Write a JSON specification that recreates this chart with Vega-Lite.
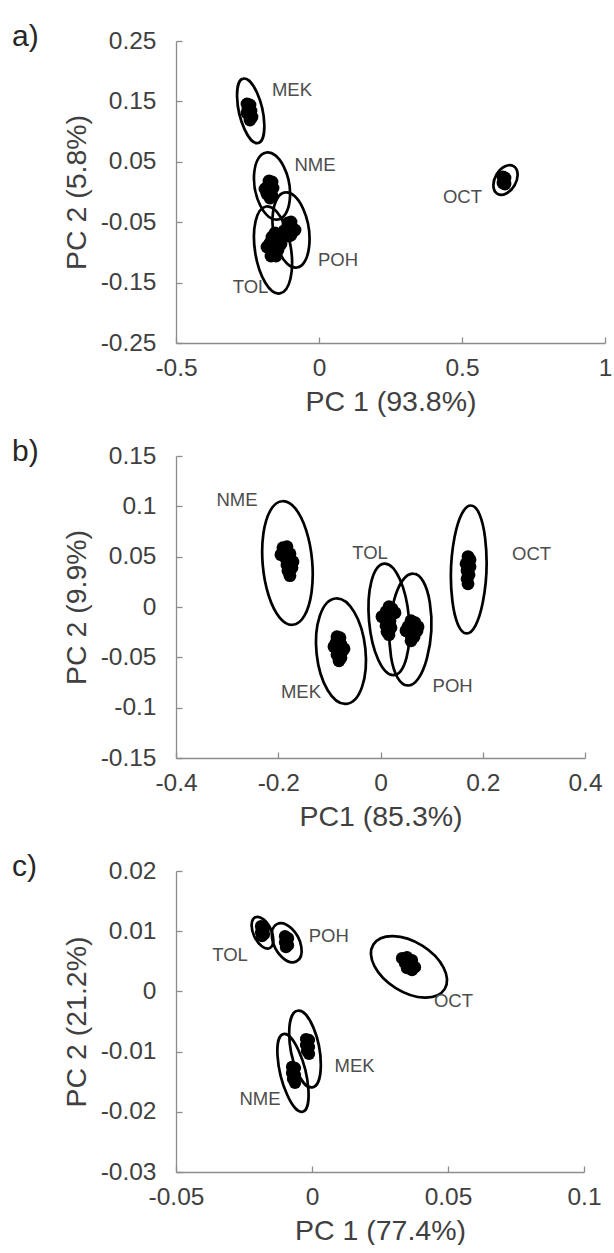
{
  "$schema": "https://vega.github.io/schema/vega-lite/v6.json",
  "autosize": {"type": "pad"},
  "padding": {"left": 12, "top": 22, "right": 0, "bottom": 0},
  "background": "white",
  "datasets": {
    "a_ellipse": [
      {"solvent": "MEK", "pc1": -0.2388, "pc2": 0.1344},
      {"solvent": "NME", "pc1": -0.1643, "pc2": 0.0099},
      {"solvent": "POH", "pc1": -0.0979, "pc2": -0.0629},
      {"solvent": "TOL", "pc1": -0.1608, "pc2": -0.0960},
      {"solvent": "OCT", "pc1": 0.6521, "pc2": 0.0199}
    ],
    "a_scores": [
      {"solvent": "MEK", "pc1": -0.2517, "pc2": 0.1457},
      {"solvent": "MEK", "pc1": -0.2413, "pc2": 0.1440},
      {"solvent": "MEK", "pc1": -0.2483, "pc2": 0.1374},
      {"solvent": "MEK", "pc1": -0.2378, "pc2": 0.1341},
      {"solvent": "MEK", "pc1": -0.2448, "pc2": 0.1291},
      {"solvent": "MEK", "pc1": -0.2343, "pc2": 0.1242},
      {"solvent": "MEK", "pc1": -0.2413, "pc2": 0.1192},
      {"solvent": "MEK", "pc1": -0.2517, "pc2": 0.1308},
      {"solvent": "NME", "pc1": -0.1748, "pc2": 0.0182},
      {"solvent": "NME", "pc1": -0.1643, "pc2": 0.0166},
      {"solvent": "NME", "pc1": -0.1783, "pc2": 0.0099},
      {"solvent": "NME", "pc1": -0.1608, "pc2": 0.0066},
      {"solvent": "NME", "pc1": -0.1713, "pc2": 0.0017},
      {"solvent": "NME", "pc1": -0.1818, "pc2": -0.0033},
      {"solvent": "NME", "pc1": -0.1643, "pc2": -0.0066},
      {"solvent": "NME", "pc1": -0.1713, "pc2": -0.0099},
      {"solvent": "NME", "pc1": -0.1888, "pc2": 0.0050},
      {"solvent": "POH", "pc1": -0.1084, "pc2": -0.0513},
      {"solvent": "POH", "pc1": -0.0979, "pc2": -0.0497},
      {"solvent": "POH", "pc1": -0.1119, "pc2": -0.0596},
      {"solvent": "POH", "pc1": -0.0944, "pc2": -0.0613},
      {"solvent": "POH", "pc1": -0.1049, "pc2": -0.0646},
      {"solvent": "POH", "pc1": -0.1154, "pc2": -0.0695},
      {"solvent": "POH", "pc1": -0.0979, "pc2": -0.0712},
      {"solvent": "POH", "pc1": -0.1049, "pc2": -0.0728},
      {"solvent": "POH", "pc1": -0.0839, "pc2": -0.0629},
      {"solvent": "POH", "pc1": -0.1224, "pc2": -0.0646},
      {"solvent": "TOL", "pc1": -0.1538, "pc2": -0.0679},
      {"solvent": "TOL", "pc1": -0.1643, "pc2": -0.0745},
      {"solvent": "TOL", "pc1": -0.1469, "pc2": -0.0778},
      {"solvent": "TOL", "pc1": -0.1713, "pc2": -0.0844},
      {"solvent": "TOL", "pc1": -0.1538, "pc2": -0.0877},
      {"solvent": "TOL", "pc1": -0.1643, "pc2": -0.0944},
      {"solvent": "TOL", "pc1": -0.1434, "pc2": -0.0960},
      {"solvent": "TOL", "pc1": -0.1573, "pc2": -0.1010},
      {"solvent": "TOL", "pc1": -0.1678, "pc2": -0.1060},
      {"solvent": "TOL", "pc1": -0.1503, "pc2": -0.1060},
      {"solvent": "TOL", "pc1": -0.1818, "pc2": -0.0911},
      {"solvent": "TOL", "pc1": -0.1329, "pc2": -0.0861},
      {"solvent": "OCT", "pc1": 0.6434, "pc2": 0.0248},
      {"solvent": "OCT", "pc1": 0.6503, "pc2": 0.0232},
      {"solvent": "OCT", "pc1": 0.6469, "pc2": 0.0182},
      {"solvent": "OCT", "pc1": 0.6434, "pc2": 0.0149},
      {"solvent": "OCT", "pc1": 0.6503, "pc2": 0.0132}
    ],
    "a_labels": [
      {"solvent": "MEK", "pc1": -0.0944, "pc2": 0.1697},
      {"solvent": "NME", "pc1": -0.0140, "pc2": 0.0447},
      {"solvent": "POH", "pc1": 0.0664, "pc2": -0.1118},
      {"solvent": "TOL", "pc1": -0.2395, "pc2": -0.1581},
      {"solvent": "OCT", "pc1": 0.5017, "pc2": -0.0091}
    ],
    "b_ellipse": [
      {"solvent": "NME", "pc1": -0.1820, "pc2": 0.0437},
      {"solvent": "MEK", "pc1": -0.0773, "pc2": -0.0439},
      {"solvent": "TOL", "pc1": 0.0166, "pc2": -0.0123},
      {"solvent": "POH", "pc1": 0.0585, "pc2": -0.0224},
      {"solvent": "OCT", "pc1": 0.1726, "pc2": 0.0373}
    ],
    "b_scores": [
      {"solvent": "NME", "pc1": -0.1908, "pc2": 0.0589},
      {"solvent": "NME", "pc1": -0.1830, "pc2": 0.0599},
      {"solvent": "NME", "pc1": -0.1869, "pc2": 0.0539},
      {"solvent": "NME", "pc1": -0.1771, "pc2": 0.0529},
      {"solvent": "NME", "pc1": -0.1849, "pc2": 0.0480},
      {"solvent": "NME", "pc1": -0.1751, "pc2": 0.0460},
      {"solvent": "NME", "pc1": -0.1830, "pc2": 0.0420},
      {"solvent": "NME", "pc1": -0.1732, "pc2": 0.0390},
      {"solvent": "NME", "pc1": -0.1810, "pc2": 0.0361},
      {"solvent": "NME", "pc1": -0.1771, "pc2": 0.0311},
      {"solvent": "NME", "pc1": -0.1947, "pc2": 0.0520},
      {"solvent": "NME", "pc1": -0.1712, "pc2": 0.0450},
      {"solvent": "MEK", "pc1": -0.0851, "pc2": -0.0295},
      {"solvent": "MEK", "pc1": -0.0793, "pc2": -0.0305},
      {"solvent": "MEK", "pc1": -0.0871, "pc2": -0.0355},
      {"solvent": "MEK", "pc1": -0.0773, "pc2": -0.0374},
      {"solvent": "MEK", "pc1": -0.0832, "pc2": -0.0414},
      {"solvent": "MEK", "pc1": -0.0754, "pc2": -0.0444},
      {"solvent": "MEK", "pc1": -0.0851, "pc2": -0.0474},
      {"solvent": "MEK", "pc1": -0.0773, "pc2": -0.0504},
      {"solvent": "MEK", "pc1": -0.0812, "pc2": -0.0534},
      {"solvent": "MEK", "pc1": -0.0910, "pc2": -0.0394},
      {"solvent": "MEK", "pc1": -0.0714, "pc2": -0.0414},
      {"solvent": "TOL", "pc1": 0.0166, "pc2": 0.0003},
      {"solvent": "TOL", "pc1": 0.0225, "pc2": -0.0017},
      {"solvent": "TOL", "pc1": 0.0108, "pc2": -0.0047},
      {"solvent": "TOL", "pc1": 0.0205, "pc2": -0.0076},
      {"solvent": "TOL", "pc1": 0.0088, "pc2": -0.0116},
      {"solvent": "TOL", "pc1": 0.0186, "pc2": -0.0136},
      {"solvent": "TOL", "pc1": 0.0108, "pc2": -0.0186},
      {"solvent": "TOL", "pc1": 0.0205, "pc2": -0.0206},
      {"solvent": "TOL", "pc1": 0.0127, "pc2": -0.0245},
      {"solvent": "TOL", "pc1": 0.0166, "pc2": -0.0275},
      {"solvent": "TOL", "pc1": 0.0029, "pc2": -0.0096},
      {"solvent": "TOL", "pc1": 0.0284, "pc2": -0.0057},
      {"solvent": "POH", "pc1": 0.0597, "pc2": -0.0136},
      {"solvent": "POH", "pc1": 0.0675, "pc2": -0.0156},
      {"solvent": "POH", "pc1": 0.0538, "pc2": -0.0196},
      {"solvent": "POH", "pc1": 0.0636, "pc2": -0.0216},
      {"solvent": "POH", "pc1": 0.0714, "pc2": -0.0235},
      {"solvent": "POH", "pc1": 0.0577, "pc2": -0.0265},
      {"solvent": "POH", "pc1": 0.0656, "pc2": -0.0295},
      {"solvent": "POH", "pc1": 0.0597, "pc2": -0.0335},
      {"solvent": "POH", "pc1": 0.0499, "pc2": -0.0235},
      {"solvent": "POH", "pc1": 0.0734, "pc2": -0.0196},
      {"solvent": "OCT", "pc1": 0.1712, "pc2": 0.0500},
      {"solvent": "OCT", "pc1": 0.1751, "pc2": 0.0470},
      {"solvent": "OCT", "pc1": 0.1673, "pc2": 0.0430},
      {"solvent": "OCT", "pc1": 0.1751, "pc2": 0.0400},
      {"solvent": "OCT", "pc1": 0.1693, "pc2": 0.0361},
      {"solvent": "OCT", "pc1": 0.1732, "pc2": 0.0321},
      {"solvent": "OCT", "pc1": 0.1693, "pc2": 0.0281},
      {"solvent": "OCT", "pc1": 0.1712, "pc2": 0.0231}
    ],
    "b_labels": [
      {"solvent": "NME", "pc1": -0.2808, "pc2": 0.1059},
      {"solvent": "TOL", "pc1": -0.0205, "pc2": 0.0534},
      {"solvent": "OCT", "pc1": 0.2955, "pc2": 0.0524},
      {"solvent": "MEK", "pc1": -0.1556, "pc2": -0.0841},
      {"solvent": "POH", "pc1": 0.1411, "pc2": -0.0787}
    ],
    "c_ellipse": [
      {"solvent": "TOL", "pc1": -0.01820, "pc2": 0.00975},
      {"solvent": "POH", "pc1": -0.00930, "pc2": 0.00809},
      {"solvent": "OCT", "pc1": 0.03566, "pc2": 0.00408},
      {"solvent": "MEK", "pc1": -0.00257, "pc2": -0.00957},
      {"solvent": "NME", "pc1": -0.00699, "pc2": -0.01354}
    ],
    "c_scores": [
      {"solvent": "TOL", "pc1": -0.01875, "pc2": 0.01083},
      {"solvent": "TOL", "pc1": -0.01765, "pc2": 0.01049},
      {"solvent": "TOL", "pc1": -0.01875, "pc2": 0.00983},
      {"solvent": "TOL", "pc1": -0.01765, "pc2": 0.00950},
      {"solvent": "TOL", "pc1": -0.01838, "pc2": 0.00917},
      {"solvent": "POH", "pc1": -0.00993, "pc2": 0.00917},
      {"solvent": "POH", "pc1": -0.00882, "pc2": 0.00884},
      {"solvent": "POH", "pc1": -0.00993, "pc2": 0.00817},
      {"solvent": "POH", "pc1": -0.00882, "pc2": 0.00768},
      {"solvent": "POH", "pc1": -0.00956, "pc2": 0.00734},
      {"solvent": "OCT", "pc1": 0.03309, "pc2": 0.00552},
      {"solvent": "OCT", "pc1": 0.03493, "pc2": 0.00569},
      {"solvent": "OCT", "pc1": 0.03676, "pc2": 0.00519},
      {"solvent": "OCT", "pc1": 0.03419, "pc2": 0.00469},
      {"solvent": "OCT", "pc1": 0.03603, "pc2": 0.00453},
      {"solvent": "OCT", "pc1": 0.03787, "pc2": 0.00403},
      {"solvent": "OCT", "pc1": 0.03493, "pc2": 0.00386},
      {"solvent": "OCT", "pc1": 0.03676, "pc2": 0.00353},
      {"solvent": "MEK", "pc1": -0.00221, "pc2": -0.00791},
      {"solvent": "MEK", "pc1": -0.00110, "pc2": -0.00807},
      {"solvent": "MEK", "pc1": -0.00221, "pc2": -0.00890},
      {"solvent": "MEK", "pc1": -0.00110, "pc2": -0.00923},
      {"solvent": "MEK", "pc1": -0.00184, "pc2": -0.00990},
      {"solvent": "MEK", "pc1": -0.00110, "pc2": -0.01039},
      {"solvent": "NME", "pc1": -0.00735, "pc2": -0.01255},
      {"solvent": "NME", "pc1": -0.00625, "pc2": -0.01272},
      {"solvent": "NME", "pc1": -0.00735, "pc2": -0.01354},
      {"solvent": "NME", "pc1": -0.00625, "pc2": -0.01388},
      {"solvent": "NME", "pc1": -0.00699, "pc2": -0.01454},
      {"solvent": "NME", "pc1": -0.00625, "pc2": -0.01520}
    ],
    "c_labels": [
      {"solvent": "TOL", "pc1": -0.03015, "pc2": 0.00597},
      {"solvent": "POH", "pc1": 0.00614, "pc2": 0.00928},
      {"solvent": "OCT", "pc1": 0.05202, "pc2": -0.00161},
      {"solvent": "MEK", "pc1": 0.01566, "pc2": -0.01247},
      {"solvent": "NME", "pc1": -0.01912, "pc2": -0.01782}
    ]
  },
  "vconcat": [
    {
      "width": 429,
      "height": 302,
      "title": {"text": "a)", "anchor": "start", "frame": "group", "dx": -164, "fontSize": 30, "fontWeight": "normal", "color": "#262626", "baseline": "bottom", "offset": -54},
      "encoding": {
        "x": {"field": "pc1", "type": "quantitative", "scale": {"domain": [-0.5, 1], "nice": false, "zero": false}, "axis": {"values": [-0.5, 0, 0.5, 1], "title": "PC 1 (93.8%)"}},
        "y": {"field": "pc2", "type": "quantitative", "scale": {"domain": [-0.25, 0.25], "nice": false, "zero": false}, "axis": {"values": [-0.25, -0.15, -0.05, 0.05, 0.15, 0.25], "title": "PC 2 (5.8%)"}}
      },
      "layer": [
        {
          "data": {"name": "a_ellipse"},
          "mark": {"type": "point", "filled": false, "stroke": "black", "strokeWidth": 2.7, "opacity": 1, "size": 4},
          "encoding": {
            "shape": {"field": "solvent", "type": "nominal", "legend": null, "scale": {
              "domain": ["MEK", "NME", "POH", "TOL", "OCT"],
              "range": [
                "M 7.42 32.15 A 33 11.5 77 1 0 -7.42 -32.15 A 33 11.5 77 1 0 7.42 32.15 Z",
                "M 5.90 33.48 A 34 17 80 1 0 -5.90 -33.48 A 34 17 80 1 0 5.90 33.48 Z",
                "M 5.94 37.53 A 38 17.5 81 1 0 -5.94 -37.53 A 38 17.5 81 1 0 5.94 37.53 Z",
                "M 6.88 43.46 A 44 18 81 1 0 -6.88 -43.46 A 44 18 81 1 0 6.88 43.46 Z",
                "M -8 13.86 A 16 10.5 120 1 0 8 -13.86 A 16 10.5 120 1 0 -8 13.86 Z"
              ]
            }}
          }
        },
        {
          "data": {"name": "a_scores"},
          "mark": {"type": "point", "filled": true, "shape": "circle", "size": 165, "color": "black", "opacity": 1}
        },
        {
          "data": {"name": "a_labels"},
          "mark": {"type": "text", "fontSize": 18.5, "color": "#4d4d4d"},
          "encoding": {"text": {"field": "solvent"}}
        }
      ]
    },
    {
      "width": 409,
      "height": 302,
      "title": {"text": "b)", "anchor": "start", "frame": "group", "dx": -164, "fontSize": 30, "fontWeight": "normal", "color": "#262626", "baseline": "bottom", "offset": -54},
      "encoding": {
        "x": {"field": "pc1", "type": "quantitative", "scale": {"domain": [-0.4, 0.4], "nice": false, "zero": false}, "axis": {"values": [-0.4, -0.2, 0, 0.2, 0.4], "title": "PC1 (85.3%)"}},
        "y": {"field": "pc2", "type": "quantitative", "scale": {"domain": [-0.15, 0.15], "nice": false, "zero": false}, "axis": {"values": [-0.15, -0.1, -0.05, 0, 0.05, 0.1, 0.15], "title": "PC 2 (9.9%)"}}
      },
      "layer": [
        {
          "data": {"name": "b_ellipse"},
          "mark": {"type": "point", "filled": false, "stroke": "black", "strokeWidth": 2.7, "opacity": 1, "size": 4},
          "encoding": {
            "shape": {"field": "solvent", "type": "nominal", "legend": null, "scale": {
              "domain": ["NME", "MEK", "TOL", "POH", "OCT"],
              "range": [
                "M 5.40 61.76 A 62 24.5 85 1 0 -5.40 -61.76 A 62 24.5 85 1 0 5.40 61.76 Z",
                "M 5.54 52.71 A 53 24.5 84 1 0 -5.54 -52.71 A 53 24.5 84 1 0 5.54 52.71 Z",
                "M 4.88 55.79 A 56 20 85 1 0 -4.88 -55.79 A 56 20 85 1 0 4.88 55.79 Z",
                "M -2.93 55.92 A 56 20.5 93 1 0 2.93 -55.92 A 56 20.5 93 1 0 -2.93 55.92 Z",
                "M -2.23 63.96 A 64 17.5 92 1 0 2.23 -63.96 A 64 17.5 92 1 0 -2.23 63.96 Z"
              ]
            }}
          }
        },
        {
          "data": {"name": "b_scores"},
          "mark": {"type": "point", "filled": true, "shape": "circle", "size": 165, "color": "black", "opacity": 1}
        },
        {
          "data": {"name": "b_labels"},
          "mark": {"type": "text", "fontSize": 18.5, "color": "#4d4d4d"},
          "encoding": {"text": {"field": "solvent"}}
        }
      ]
    },
    {
      "width": 408,
      "height": 301,
      "title": {"text": "c)", "anchor": "start", "frame": "group", "dx": -164, "fontSize": 30, "fontWeight": "normal", "color": "#262626", "baseline": "bottom", "offset": -54},
      "encoding": {
        "x": {"field": "pc1", "type": "quantitative", "scale": {"domain": [-0.05, 0.1], "nice": false, "zero": false}, "axis": {"values": [-0.05, 0, 0.05, 0.1], "title": "PC 1 (77.4%)"}},
        "y": {"field": "pc2", "type": "quantitative", "scale": {"domain": [-0.03, 0.02], "nice": false, "zero": false}, "axis": {"values": [-0.03, -0.02, -0.01, 0, 0.01, 0.02], "title": "PC 2 (21.2%)"}}
      },
      "layer": [
        {
          "data": {"name": "c_ellipse"},
          "mark": {"type": "point", "filled": false, "stroke": "black", "strokeWidth": 2.7, "opacity": 1, "size": 4},
          "encoding": {
            "shape": {"field": "solvent", "type": "nominal", "legend": null, "scale": {
              "domain": ["TOL", "POH", "OCT", "MEK", "NME"],
              "range": [
                "M 7.18 15.41 A 17 9 65 1 0 -7.18 -15.41 A 17 9 65 1 0 7.18 15.41 Z",
                "M 9.86 18.54 A 21 12.5 62 1 0 -9.86 -18.54 A 21 12.5 62 1 0 9.86 18.54 Z",
                "M 35.62 22.26 A 42 25 32 1 0 -35.62 -22.26 A 42 25 32 1 0 35.62 22.26 Z",
                "M 7.44 38.28 A 39 14 79 1 0 -7.44 -38.28 A 39 14 79 1 0 7.44 38.28 Z",
                "M 9.68 38.81 A 40 12.5 76 1 0 -9.68 -38.81 A 40 12.5 76 1 0 9.68 38.81 Z"
              ]
            }}
          }
        },
        {
          "data": {"name": "c_scores"},
          "mark": {"type": "point", "filled": true, "shape": "circle", "size": 150, "color": "black", "opacity": 1}
        },
        {
          "data": {"name": "c_labels"},
          "mark": {"type": "text", "fontSize": 18.5, "color": "#4d4d4d"},
          "encoding": {"text": {"field": "solvent"}}
        }
      ]
    }
  ],
  "spacing": 113,
  "bounds": "flush",
  "resolve": {"scale": {"shape": "independent"}},
  "config": {
    "font": "Liberation Sans",
    "view": {"stroke": null},
    "title": {"font": "Liberation Sans"},
    "text": {"font": "Liberation Sans"},
    "axis": {
      "grid": false,
      "domainColor": "#8c8c8c",
      "domainWidth": 1.3,
      "tickColor": "#8c8c8c",
      "tickWidth": 1.3,
      "tickSize": -6,
      "labelFont": "Liberation Sans",
      "labelFontSize": 24.5,
      "labelColor": "#404040",
      "labelFlush": false,
      "labelOverlap": false,
      "labelBound": false,
      "labelExpr": "'' + datum.value",
      "titleFont": "Liberation Sans",
      "titleFontSize": 28.5,
      "titleFontWeight": "normal",
      "titleColor": "#404040"
    },
    "axisX": {"labelPadding": 19, "titlePadding": 8},
    "axisY": {"labelPadding": 26, "titlePadding": 9}
  }
}
